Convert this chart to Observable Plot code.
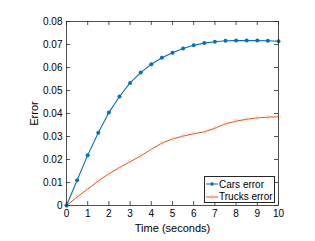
<!DOCTYPE html>
<html>
<head>
<meta charset="utf-8">
<script src="https://cdn.jsdelivr.net/npm/d3@7"></script>
<script src="https://cdn.jsdelivr.net/npm/@observablehq/plot@0.6"></script>
<style>
  html, body { margin: 0; padding: 0; background: #fff; }
  #wrap { position: relative; width: 315px; height: 241px; font-family: "Liberation Sans", Arial, sans-serif; }
  #wrap svg g[aria-label="x-axis label"] text, #wrap svg g[aria-label="y-axis label"] text { font-size: 11px; }
  #legend { position: absolute; left: 204px; top: 176px; width: 69px; height: 25px; border: 0.8px solid #262626; background: #fff; font-size: 10px; color: #000; }
  .row { position: absolute; left: 1px; height: 12px; display: flex; align-items: center; white-space: nowrap; }
  .row svg { margin-right: 1px; }
</style>
</head>
<body>
<div id="wrap"></div>
<script>
const time = [0,0.5,1,1.5,2,2.5,3,3.5,4,4.5,5,5.5,6,6.5,7,7.5,8,8.5,9,9.5,10];
const carsError = [0,0.011,0.0219,0.0316,0.0404,0.0474,0.0533,0.0578,0.0614,0.0642,0.0664,0.0683,0.0697,0.0706,0.0712,0.0716,0.0717,0.0717,0.0717,0.0716,0.0714];
const trucksError = [0,0.0037,0.0071,0.0107,0.0138,0.0165,0.019,0.0216,0.0244,0.0271,0.0289,0.0302,0.0312,0.032,0.0336,0.0355,0.0367,0.0375,0.0381,0.0384,0.0386];
const xTicks = [0,1,2,3,4,5,6,7,8,9,10];
const yTicks = [0,0.01,0.02,0.03,0.04,0.05,0.06,0.07,0.08];
const seriesNames = ["Cars error", "Trucks error"];
const colors = ["#0072BD", "#D95319"];

const cars = time.map((t, i) => ({t, v: carsError[i]}));
const trucks = time.map((t, i) => ({t, v: trucksError[i]}));
const axisColor = "#262626";

const chart = Plot.plot({
  width: 315,
  height: 241,
  marginLeft: 66,
  marginRight: 37,
  marginTop: 21,
  marginBottom: 36,
  style: {fontFamily: "Liberation Sans, Arial, sans-serif", fontSize: "10px", color: "#000", background: "#fff"},
  x: {domain: [0, 10], ticks: xTicks},
  y: {domain: [0, 0.08], ticks: yTicks},
  marks: [
    Plot.axisX(xTicks, {tickSize: 0, tickPadding: 4, tickFormat: d => String(d), label: "Time (seconds)", labelAnchor: "center", labelArrow: "none", labelOffset: 26}),
    Plot.axisY(yTicks, {tickSize: 0, tickPadding: 4, tickFormat: d => d === 0 ? "0" : d3.format(".2f")(d), label: "Error", labelAnchor: "center", labelArrow: "none", labelOffset: 36}),
    Plot.ruleX(xTicks, {x: d => d, insetTop: 180, stroke: axisColor, strokeWidth: 0.8}),
    Plot.ruleX(xTicks, {x: d => d, insetBottom: 180, stroke: axisColor, strokeWidth: 0.8}),
    Plot.ruleY(yTicks, {y: d => d, insetRight: 208, stroke: axisColor, strokeWidth: 0.8}),
    Plot.ruleY(yTicks, {y: d => d, insetLeft: 208, stroke: axisColor, strokeWidth: 0.8}),
    Plot.line(trucks, {x: "t", y: "v", stroke: colors[1], strokeWidth: 1}),
    Plot.dot(trucks, {x: "t", y: "v", r: 2, stroke: "#f3c2ad", strokeWidth: 0.6, fill: "none"}),
    Plot.line(cars, {x: "t", y: "v", stroke: colors[0], strokeWidth: 1.1}),
    Plot.dot(cars, {x: "t", y: "v", r: 2, fill: colors[0], stroke: "none"}),
    Plot.frame({stroke: axisColor, strokeWidth: 0.8})
  ]
});
const wrap = document.getElementById("wrap");
wrap.appendChild(chart);

const legend = document.createElement("div");
legend.id = "legend";
seriesNames.forEach((name, i) => {
  const row = document.createElement("div");
  row.className = "row";
  row.style.top = (1 + i * 12.5) + "px";
  const marker = i === 0
    ? `<circle cx="6" cy="3" r="1.8" fill="${colors[0]}"/>`
    : `<circle cx="6" cy="3" r="1.8" fill="none" stroke="#f3c2ad" stroke-width="0.6"/>`;
  row.innerHTML = `<svg width="12" height="6"><line x1="0" y1="3" x2="12" y2="3" stroke="${colors[i]}" stroke-width="1"/>${marker}</svg><span>${name}</span>`;
  legend.appendChild(row);
});
wrap.appendChild(legend);
</script>
</body>
</html>
